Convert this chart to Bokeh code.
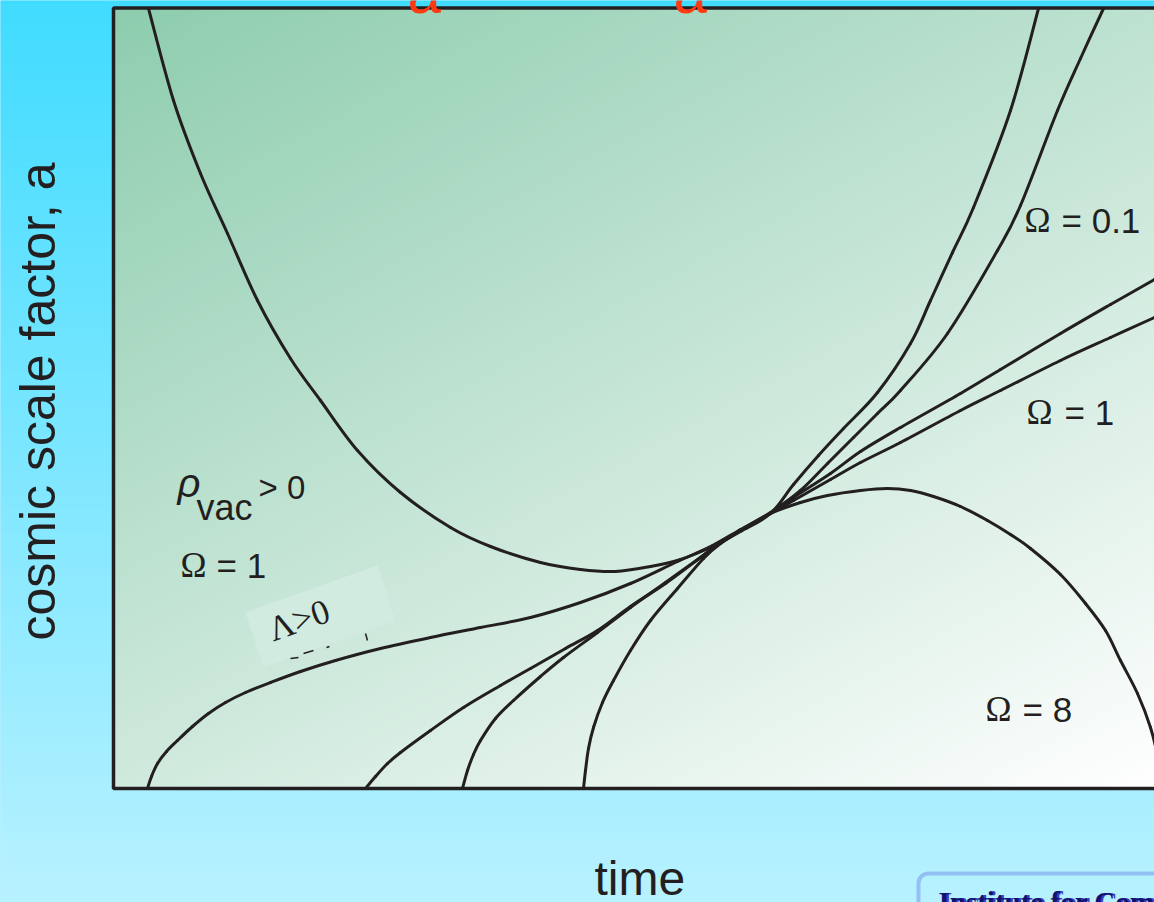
import numpy as np
from bokeh.plotting import figure
from bokeh.models import Range1d, BoxAnnotation, Label
from bokeh.core.properties import value
from bokeh.embed import file_html
from bokeh.resources import INLINE

# ---------------------------------------------------------------
# Scale factor a(t) for a family of cosmological models
# (time and a in arbitrary units)
# ---------------------------------------------------------------

# bouncing model with vacuum energy (rho_vac > 0, Omega = 1)
bounce_t = [0.36, 0.61, 0.88, 1.15, 1.45, 1.78, 2.08, 2.45, 2.88, 3.38, 3.78, 4.28,
            4.68, 5.03, 5.38, 5.68, 6.00, 6.28, 6.58, 6.81, 7.06, 7.31, 7.65, 7.98,
            8.18, 8.40, 8.61, 8.98, 9.26]
bounce_a = [7.80, 6.88, 6.15, 5.55, 4.88, 4.30, 3.88, 3.38, 2.96, 2.61, 2.42, 2.26,
            2.19, 2.17, 2.22, 2.29, 2.42, 2.57, 2.75, 3.04, 3.33, 3.60, 3.96, 4.45,
            4.88, 5.36, 5.81, 6.78, 7.80]

# Lambda > 0 model
lambda_t = [0.35, 0.39, 0.45, 0.54, 0.65, 0.80, 0.96, 1.13, 1.33, 1.58, 1.88, 2.23,
            2.68, 3.18, 3.68, 4.18, 4.68, 5.18, 5.65, 6.00, 6.28, 6.58, 6.88, 7.15,
            7.41, 7.65, 7.88, 8.35, 8.85, 9.08, 9.45, 9.68, 9.91]
lambda_a = [0.00, 0.12, 0.25, 0.37, 0.48, 0.62, 0.75, 0.86, 0.96, 1.06, 1.17, 1.28,
            1.40, 1.51, 1.61, 1.71, 1.86, 2.05, 2.27, 2.43, 2.59, 2.76, 2.98, 3.25,
            3.51, 3.75, 3.98, 4.55, 5.38, 5.83, 6.78, 7.30, 7.80]

# Omega = 0.1 (open)
open_t = [2.53, 2.63, 2.75, 2.88, 3.18, 3.51, 3.88, 4.18, 4.53, 4.85, 5.18, 5.53,
          5.88, 6.00, 6.28, 6.58, 6.81, 7.18, 7.48, 7.88, 8.48, 8.88, 9.48, 9.98,
          10.42, 10.58]
open_a = [0.00, 0.12, 0.25, 0.36, 0.58, 0.81, 1.03, 1.20, 1.40, 1.58, 1.82, 2.05,
          2.31, 2.40, 2.58, 2.75, 2.91, 3.15, 3.37, 3.61, 3.95, 4.19, 4.55, 4.84,
          5.09, 5.18]

# Omega = 1 (flat)
flat_t = [3.50, 3.55, 3.61, 3.68, 3.83, 4.01, 4.28, 4.51, 4.85, 5.18, 5.53, 5.88,
          6.00, 6.28, 6.58, 6.81, 7.18, 7.48, 7.88, 8.48, 8.88, 9.48, 9.98, 10.42,
          10.58]
flat_a = [0.00, 0.18, 0.34, 0.48, 0.70, 0.88, 1.12, 1.31, 1.56, 1.81, 2.06, 2.31,
          2.40, 2.58, 2.75, 2.88, 3.09, 3.26, 3.46, 3.78, 3.98, 4.28, 4.51, 4.71,
          4.78]

# Omega = 8 (closed, recollapsing)
closed_t = [4.71, 4.73, 4.76, 4.81, 4.90, 5.01, 5.18, 5.38, 5.65, 5.91, 6.08, 6.33,
            6.58, 6.88, 7.15, 7.48, 7.75, 7.98, 8.21, 8.48, 8.75, 8.98, 9.18, 9.48,
            9.73, 9.93, 10.08, 10.25, 10.38, 10.46, 10.50]
closed_a = [0.00, 0.18, 0.40, 0.61, 0.86, 1.08, 1.38, 1.68, 2.00, 2.30, 2.45, 2.61,
            2.75, 2.86, 2.93, 2.98, 3.00, 2.98, 2.92, 2.82, 2.68, 2.54, 2.40, 2.14,
            1.85, 1.58, 1.28, 0.95, 0.61, 0.28, 0.00]

# ---------------------------------------------------------------
W, H = 1154, 902
T0, T1 = -1.12, 10.42
A0, A1 = -1.14, 7.88


def px(x):
    """canvas pixel column -> time coordinate"""
    return T0 + x * (T1 - T0) / W


def py(y):
    """canvas pixel row (from top) -> scale-factor coordinate"""
    return A1 - y * (A1 - A0) / H


p = figure(width=W, height=H, x_range=Range1d(T0, T1), y_range=Range1d(A0, A1),
           output_backend="svg", toolbar_location=None, min_border=0,
           x_axis_location=None, y_axis_location=None,
           outline_line_color=None, border_fill_color="#7fe6ff",
           background_fill_color="#7fe6ff")
p.grid.visible = False


def rgba(r, g, b):
    img = np.empty(r.shape, dtype=np.uint32)
    v = img.view(dtype=np.uint8).reshape(r.shape + (4,))
    v[..., 0] = np.clip(r, 0, 255)
    v[..., 1] = np.clip(g, 0, 255)
    v[..., 2] = np.clip(b, 0, 255)
    v[..., 3] = 255
    return img


# page background: vertical cyan gradient (row 0 is the bottom edge)
rows = np.arange(H // 2)[:, None] * np.ones((1, 2))
f = (rows + 0.5) * 2 / H                 # 0 at bottom, 1 at top
top_c = np.array([64, 220, 255])
bot_c = np.array([185, 242, 255])
bg = rgba(bot_c[0] + (top_c[0] - bot_c[0]) * f,
          bot_c[1] + (top_c[1] - bot_c[1]) * f,
          bot_c[2] + (top_c[2] - bot_c[2]) * f)
p.image_rgba(image=[bg], x=T0 - 0.05, y=A0 - 0.05, dw=T1 - T0 + 0.1, dh=A1 - A0 + 0.1)

# plot box: diagonal green-to-white gradient
bx0, bx1, by0, by1 = 0.0, 10.42, 0.0, 7.8
nx, ny = 521, 390
u = (np.arange(nx)[None, :] + 0.5) / nx * np.ones((ny, 1))
v = 1.0 - (np.arange(ny)[:, None] + 0.5) / ny * np.ones((1, nx))
s = np.clip(0.42 * u + 0.58 * v, 0, 1)
c0 = np.array([142, 205, 175])
c1 = np.array([255, 255, 255])
box = rgba(c0[0] + (c1[0] - c0[0]) * s,
           c0[1] + (c1[1] - c0[1]) * s,
           c0[2] + (c1[2] - c0[2]) * s)
p.image_rgba(image=[box], x=bx0, y=by0, dw=bx1 - bx0, dh=by1 - by0)

# pale tag behind the Lambda label
tag = [(245, 612), (377, 565), (395, 620), (263, 667)]
p.patch([px(x) for x, _ in tag], [py(y) for _, y in tag],
        fill_color="#d2ebe0", line_color=None)

ink = "#231f20"


def smooth_curve(tt, aa):
    """Draw a curve through the points as Catmull-Rom style cubic segments."""
    P = np.column_stack([tt, aa]).astype(float)
    n = len(P)
    Pm = np.vstack([P[0], P, P[-1]])
    c_a = P[:-1] + (Pm[2:n + 1] - Pm[0:n - 1]) / 6.0
    c_b = P[1:] - (Pm[3:n + 2] - Pm[1:n]) / 6.0
    p.bezier(x0=P[:-1, 0], y0=P[:-1, 1], x1=P[1:, 0], y1=P[1:, 1],
             cx0=c_a[:, 0], cy0=c_a[:, 1], cx1=c_b[:, 0], cy1=c_b[:, 1],
             line_color=ink, line_width=3, line_cap="round")


for tt, aa in [(bounce_t, bounce_a), (lambda_t, lambda_a), (open_t, open_a),
               (flat_t, flat_a), (closed_t, closed_a)]:
    smooth_curve(tt, aa)

# stray marks under the Lambda tag
for (xa, ya), (xb, yb) in [((290, 658), (298, 657)), ((303, 653), (313, 650)),
                           ((326, 647), (329, 646)), ((365, 633), (367, 640))]:
    p.line([px(xa), px(xb)], [py(ya), py(yb)], line_color=ink, line_width=1.5)

# frame of the plot box
p.quad(left=px(113), right=px(1200), bottom=py(788), top=py(7.5),
       fill_color=None, line_color=ink, line_width=3.5)

sans = value("Liberation Sans")
serif = value("Liberation Serif")
LIFT = 0.36   # em offset between requested and drawn alphabetic baseline


def txt(x, y, s, size, font=sans, color=ink, angle=0.0, style="normal"):
    """Place text with its alphabetic baseline start at canvas pixel (x, y)."""
    x = x - LIFT * size * np.sin(angle)
    y = y - LIFT * size * np.cos(angle)
    p.text(x=[px(x)], y=[py(y)], text=[s], text_font=font,
           text_font_size=value(f"{size}px"), text_color=color, angle=angle,
           text_font_style=style, text_align="left", text_baseline="alphabetic")


# title remnants along the top edge
for xa in (407, 673):
    p.add_layout(Label(x=px(xa), y=py(14 - LIFT * 60), text="a",
                       text_font="Liberation Sans", text_font_size="60px",
                       text_color="#ff3a12", text_baseline="alphabetic"))

# axis titles
txt(594, 895, "time", 48)
txt(55, 640, "cosmic scale factor, a", 50, angle=np.pi / 2)

# model labels
txt(177, 497, "\u03c1", 40, style="italic")
txt(196, 520, "vac", 36)
txt(258, 499, "> 0", 33)

txt(180, 578, "\u03a9", 35, font=serif)
txt(216, 578, "= 1", 35)

txt(273, 642, "\u039b>0", 35, font=serif, angle=0.34)

txt(1024, 233, "\u03a9", 35, font=serif)
txt(1061, 233, "= 0.1", 35)

txt(1026, 425, "\u03a9", 35, font=serif)
txt(1064, 425, "= 1", 35)

txt(985, 722, "\u03a9", 35, font=serif)
txt(1022, 722, "= 8", 35)

# institute tag in the corner
p.add_layout(BoxAnnotation(left=px(918), right=px(1300), top=py(873), bottom=py(960),
                           fill_color=None, line_color="#4a4fd6", line_width=4,
                           border_radius=10))
for dx, col in ((2.5, "#3a3fc0"), (0, "#12126e")):
    p.text(x=[px(938 + dx)], y=[py(885)], text=["Institute for Computational Cosmology"],
           text_font=serif, text_font_size=value("29px"), text_color=col,
           text_font_style="bold", text_align="left", text_baseline="top")

open("out.html", "w").write(file_html(p, INLINE))
